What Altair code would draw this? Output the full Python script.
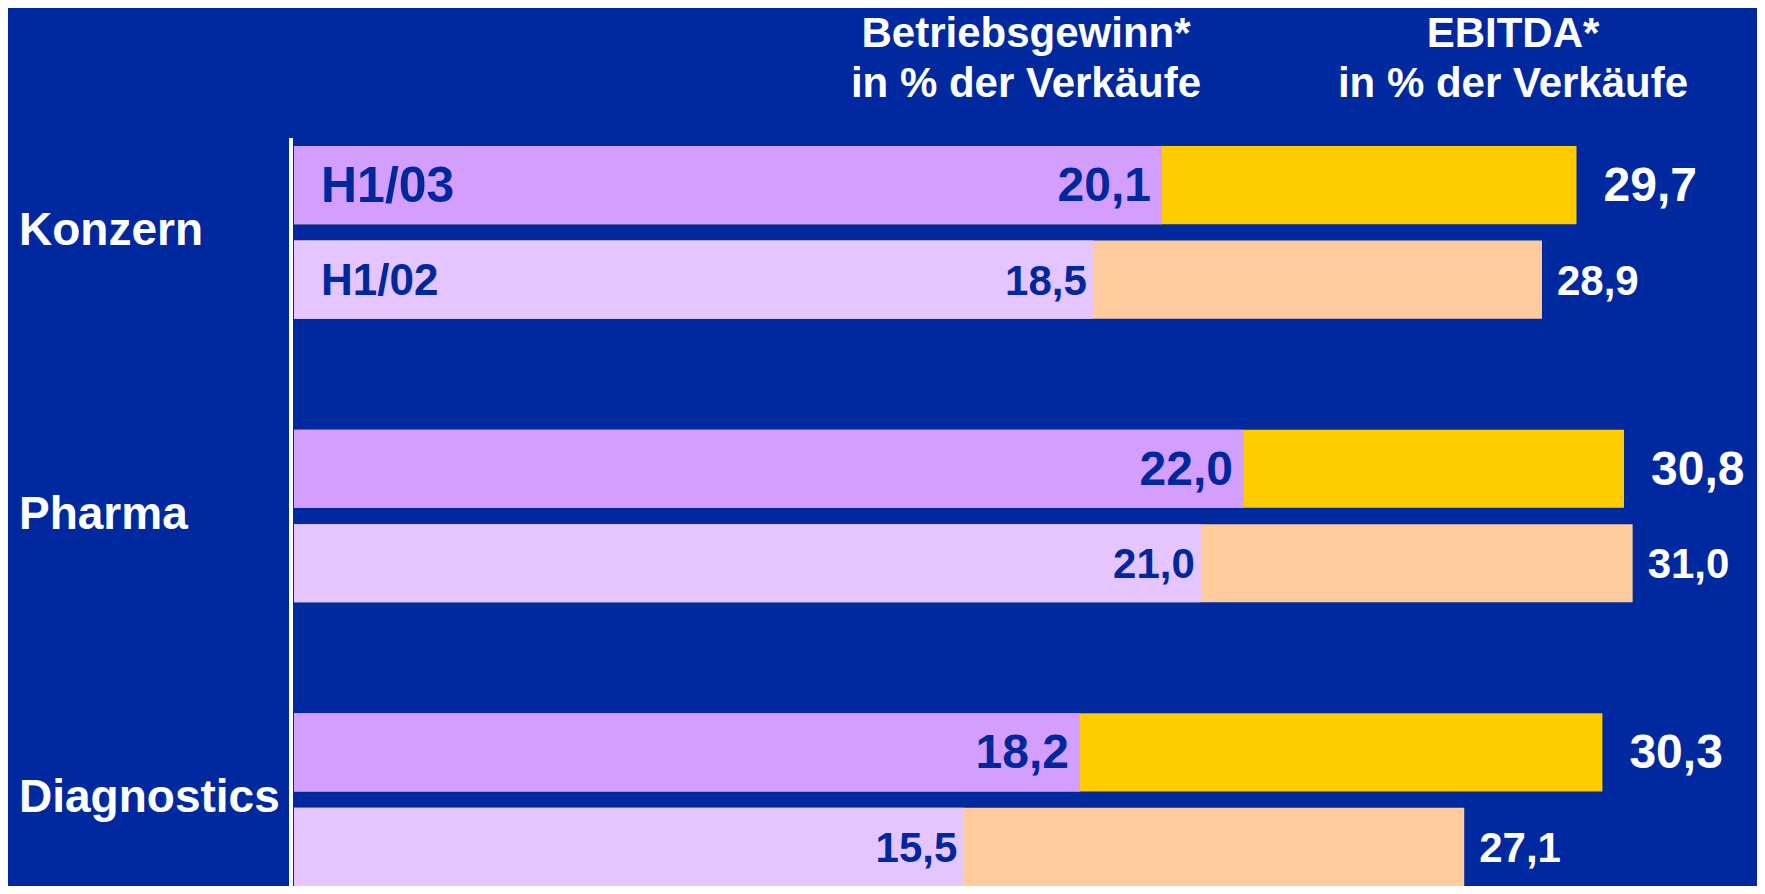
import altair as alt
import pandas as pd

# ---- data ----
groups = ["Konzern", "Pharma", "Diagnostics"]
periods = ["H1/03", "H1/02"]
betriebsgewinn = [20.1, 18.5, 22.0, 21.0, 18.2, 15.5]
ebitda = [29.7, 28.9, 30.8, 31.0, 30.3, 27.1]
header_bg = ["Betriebsgewinn*", "in % der Verkäufe"]
header_ebitda = ["EBITDA*", "in % der Verkäufe"]

# ---- styling ----
BG = "#0029A0"
PURPLE = "#D49EFF"
LIGHT_PURPLE = "#E4C5FF"
YELLOW = "#FFCC00"
PEACH = "#FFCB9C"
DARK_TEXT = "#00289C"
WHITE = "#FFFFFF"
FONT = "Liberation Sans"

recs = []
i = 0
for g in groups:
    for p in periods:
        recs.append({"group": g, "period": p, "row": f"{g} {p}",
                     "bg": betriebsgewinn[i], "ebitda": ebitda[i]})
        i += 1
df = pd.DataFrame(recs)

# row order with empty spacer rows between groups
row_domain = []
for k, g in enumerate(groups):
    if k > 0:
        row_domain.append(f"gap{k}")
    for p in periods:
        row_domain.append(f"{g} {p}")

W, H = 1425, 740
x_scale = alt.Scale(domain=[0, 33], nice=False, zero=True)
y_scale = alt.Scale(domain=row_domain, paddingInner=0.173, paddingOuter=0)

base = alt.Chart(df).transform_calculate(
    bg_label="replace(format(datum.bg, '.1f'), '.', ',')",
    eb_label="replace(format(datum.ebitda, '.1f'), '.', ',')",
)
Y = alt.Y("row:N", scale=y_scale, axis=None)
is03 = alt.datum.period == periods[0]

ebitda_bars = base.mark_bar().encode(
    x=alt.X("ebitda:Q", scale=x_scale, axis=None),
    y=Y,
    color=alt.condition(is03, alt.value(YELLOW), alt.value(PEACH)),
)
bg_bars = base.mark_bar().encode(
    x=alt.X("bg:Q", scale=x_scale, axis=None),
    y=Y,
    color=alt.condition(is03, alt.value(PURPLE), alt.value(LIGHT_PURPLE)),
)

def label_layers(per, size, lbl_size, dx_in, dx_out):
    b = base.transform_filter(alt.datum.period == per)
    inner = b.mark_text(align="right", baseline="middle", font=FONT, fontWeight="bold",
                        fontSize=size, dx=dx_in, dy=2, color=DARK_TEXT).encode(
        x=alt.X("bg:Q", scale=x_scale, axis=None), y=Y, text="bg_label:N")
    outer = b.mark_text(align="left", baseline="middle", font=FONT, fontWeight="bold",
                        fontSize=size, dx=dx_out, dy=2, color=WHITE).encode(
        x=alt.X("ebitda:Q", scale=x_scale, axis=None), y=Y, text="eb_label:N")
    period_lbl = b.transform_filter(alt.datum.group == groups[0]).mark_text(
        align="left", baseline="middle", font=FONT, fontWeight="bold",
        fontSize=lbl_size, dx=27, dy=2, color=DARK_TEXT).encode(
        x=alt.value(0), y=Y, text="period:N")
    return [inner, outer, period_lbl]

labels03 = label_layers(periods[0], 48, 50, -11, 27)
labels02 = label_layers(periods[1], 42, 44, -6, 15)

group_labels = base.transform_filter(is03).mark_text(
    align="left", baseline="middle", font=FONT, fontWeight="bold",
    fontSize=46, dy=46, color=WHITE).encode(
    x=alt.value(-275), y=Y, text="group:N")

one = pd.DataFrame({"k": [0]})
axis_line = alt.Chart(one).mark_rule(color=WHITE, strokeWidth=4).encode(
    x=alt.value(-3), y=alt.value(-8), y2=alt.value(H + 2))

head1 = alt.Chart(one).mark_text(
    align="center", baseline="alphabetic", font=FONT, fontWeight="bold",
    fontSize=42, lineHeight=50, color=WHITE).encode(
    x=alt.value(732), y=alt.value(-99), text=alt.value(header_bg))
head2 = alt.Chart(one).mark_text(
    align="center", baseline="alphabetic", font=FONT, fontWeight="bold",
    fontSize=42, lineHeight=50, color=WHITE).encode(
    x=alt.value(1219), y=alt.value(-99), text=alt.value(header_ebitda))

chart = alt.layer(
    ebitda_bars, bg_bars, *labels03, *labels02, group_labels, axis_line, head1, head2
).properties(
    width=W, height=H,
    autosize=alt.AutoSizeParams(type="none"),
    padding={"left": 286, "top": 138, "right": 38, "bottom": 0},
    background=BG,
).configure_view(stroke=None)

chart.save("out.html", embed_options={"renderer": "svg", "actions": False})
